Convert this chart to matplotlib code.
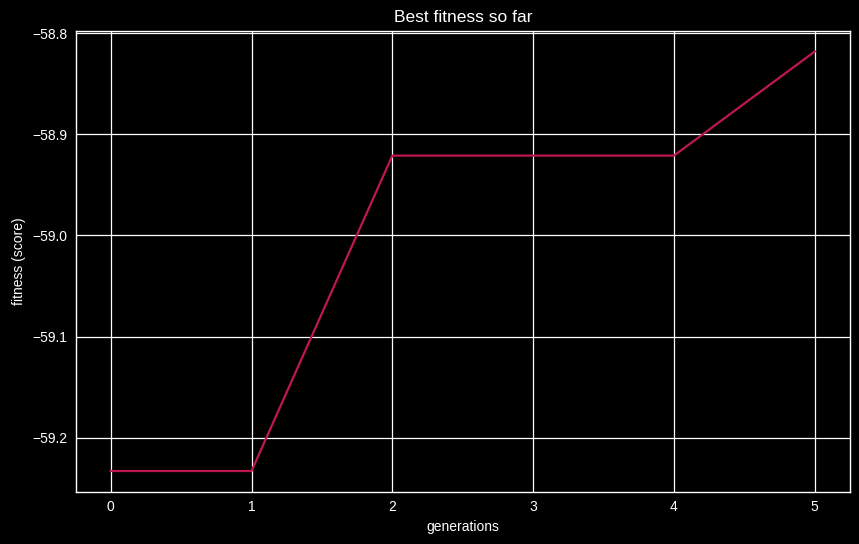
import matplotlib
matplotlib.use("Agg")
import matplotlib.pyplot as plt

generations = [0, 1, 2, 3, 4, 5]
best_fitness = [-59.233, -59.233, -58.921, -58.921, -58.921, -58.818]

plt.rcParams['font.family'] = ['Liberation Sans', 'DejaVu Sans']

fig = plt.figure(figsize=(8.59, 5.44), dpi=100, facecolor='black')
ax = fig.add_axes([75.5/859, 1-492/544, (850-75.5)/859, (492-30.5)/544])
ax.set_facecolor('black')
ax.plot(generations, best_fitness, color='#C0184C', linewidth=1.6, zorder=3)
ax.set_yticks([-58.8, -58.9, -59.0, -59.1, -59.2])
ax.grid(True, color='white', linewidth=0.9)
ax.set_axisbelow(True)
for s in ax.spines.values():
    s.set_color('white')
    s.set_linewidth(1.0)
ax.tick_params(colors='white', length=0, labelsize=10, pad=6)
ax.set_title('Best fitness so far', color='white', fontsize=12.5)
ax.set_xlabel('generations', color='white', fontsize=10)
ax.set_ylabel('fitness (score)', color='white', fontsize=10)
fig.savefig('out.png', dpi=100, facecolor='black')
